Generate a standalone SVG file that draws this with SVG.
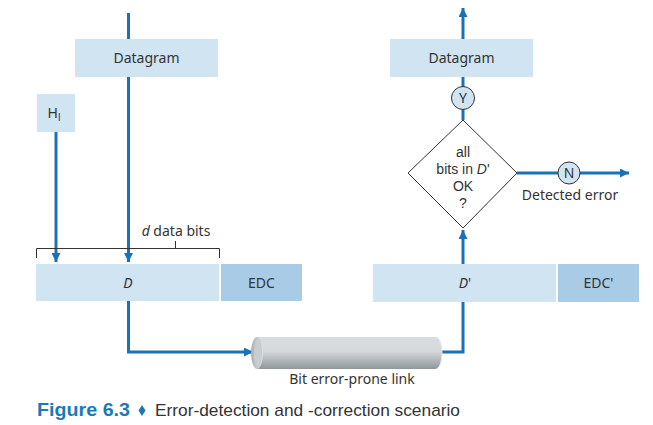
<svg xmlns="http://www.w3.org/2000/svg" width="653" height="425" viewBox="0 0 653 425">
<style>
.box{fill:#d1e4f2}
.dark{fill:#a9cbe5}
.ln{stroke:#1a72b4;stroke-width:3;fill:none}
.t{font-family:"Noto Sans","Open Sans",sans-serif;font-size:14px;fill:#333;text-anchor:middle}
.dt{font-family:"Liberation Sans",sans-serif;font-size:14px;fill:#333;text-anchor:middle}
.thin{stroke:#333;stroke-width:1;fill:none}
</style>
<defs>
<marker id="ah" viewBox="0 0 10 10" refX="10" refY="5" markerWidth="3" markerHeight="3" orient="auto" markerUnits="strokeWidth">
<path d="M0,0 L10,5 L0,10 Z" fill="#1a72b4"/>
</marker>
<linearGradient id="cyl" x1="0" y1="0" x2="0" y2="1">
<stop offset="0" stop-color="#d9dde0"/>
<stop offset="0.45" stop-color="#d4d8db"/>
<stop offset="1" stop-color="#8f969a"/>
</linearGradient>
<linearGradient id="cap" x1="0" y1="0" x2="1" y2="0">
<stop offset="0" stop-color="#a9aeb2"/>
<stop offset="1" stop-color="#dfe2e4"/>
</linearGradient>
</defs>
<g id="connectors">
<line class="ln" x1="128.5" y1="13" x2="128.5" y2="262" marker-end="url(#ah)"/>
<line class="ln" x1="56" y1="132" x2="56" y2="262" marker-end="url(#ah)"/>
<polyline class="ln" points="128.5,301 128.5,352 253,352" marker-end="url(#ah)"/>
<polyline class="ln" points="440,352 463,352 463,302"/>
<line class="ln" x1="463" y1="264" x2="463" y2="230" marker-end="url(#ah)"/>
<line class="ln" x1="463" y1="120" x2="463" y2="8" marker-end="url(#ah)"/>
<line class="ln" x1="517" y1="173" x2="629" y2="173" marker-end="url(#ah)"/>
</g>
<g id="datagram-left"><rect class="box" x="75" y="39" width="143" height="38"/><text class="t" x="146.5" y="63">Datagram</text></g>
<g id="header"><rect class="box" x="37" y="94" width="38" height="38"/><text class="t" x="54" y="118">H<tspan font-size="10" dy="3">l</tspan></text></g>
<g id="bracket">
<path class="thin" d="M36.5,258 V248.5 H219.5 V258 M175.5,248.5 V241"/>
<text class="t" x="176" y="236"><tspan font-style="italic">d</tspan> data bits</text>
</g>
<g id="D"><rect class="box" x="36" y="264" width="183" height="37"/><text class="t" x="128" y="287.5" font-style="italic">D</text></g>
<g id="EDC"><rect class="dark" x="221" y="264" width="81" height="37"/><text class="t" x="261.5" y="287.5">EDC</text></g>
<g id="link">
<path d="M257,337 H436 A6,16 0 0 1 436,369 H257 Z" fill="url(#cyl)"/>
<path d="M436,337 A6,16 0 0 1 436,369" fill="none" stroke="#e6e8ea" stroke-width="1"/>
<ellipse cx="257" cy="353" rx="6" ry="16" fill="url(#cap)"/>
<ellipse cx="258" cy="353" rx="4" ry="14" fill="#c9cdd0"/>
<text class="t" x="352" y="384">Bit error-prone link</text>
</g>
<g id="D-prime"><rect class="box" x="373" y="264" width="183" height="38"/><text class="t" x="465" y="288"><tspan font-style="italic">D</tspan>'</text></g>
<g id="EDC-prime"><rect class="dark" x="558" y="264" width="81" height="38"/><text class="t" x="598.5" y="288">EDC'</text></g>
<g id="check">
<polygon points="463,120 517,173 463,228 408,173" fill="#fff" stroke="#333" stroke-width="1"/>
<text class="dt" x="463" y="157">all</text>
<text class="dt" x="463" y="174">bits in <tspan font-style="italic">D</tspan>'</text>
<text class="dt" x="463" y="191">OK</text>
<text class="dt" x="463" y="208">?</text>
</g>
<g id="yes"><circle cx="463" cy="98" r="11.5" fill="#d1e4f2" stroke="#333" stroke-width="1"/><text class="t" x="463" y="103">Y</text></g>
<g id="no"><circle cx="569" cy="173" r="11" fill="#d1e4f2" stroke="#333" stroke-width="1"/><text class="t" x="569" y="178">N</text></g>
<text class="t" x="570" y="200">Detected error</text>
<g id="datagram-right"><rect class="box" x="390" y="39" width="143" height="38"/><text class="t" x="461.5" y="63">Datagram</text></g>
<g id="caption">
<text x="37" y="416" font-family="'Liberation Sans',sans-serif" font-size="18" font-weight="bold" fill="#1a7ab8" textLength="93" lengthAdjust="spacingAndGlyphs">Figure 6.3</text>
<path d="M142,405 L145.5,410.5 L142,416 L138.5,410.5 Z" fill="#1a7ab8"/>
<text x="155" y="416" font-family="'Liberation Sans',sans-serif" font-size="17" fill="#333" textLength="305" lengthAdjust="spacingAndGlyphs">Error-detection and -correction scenario</text>
</g>
</svg>
